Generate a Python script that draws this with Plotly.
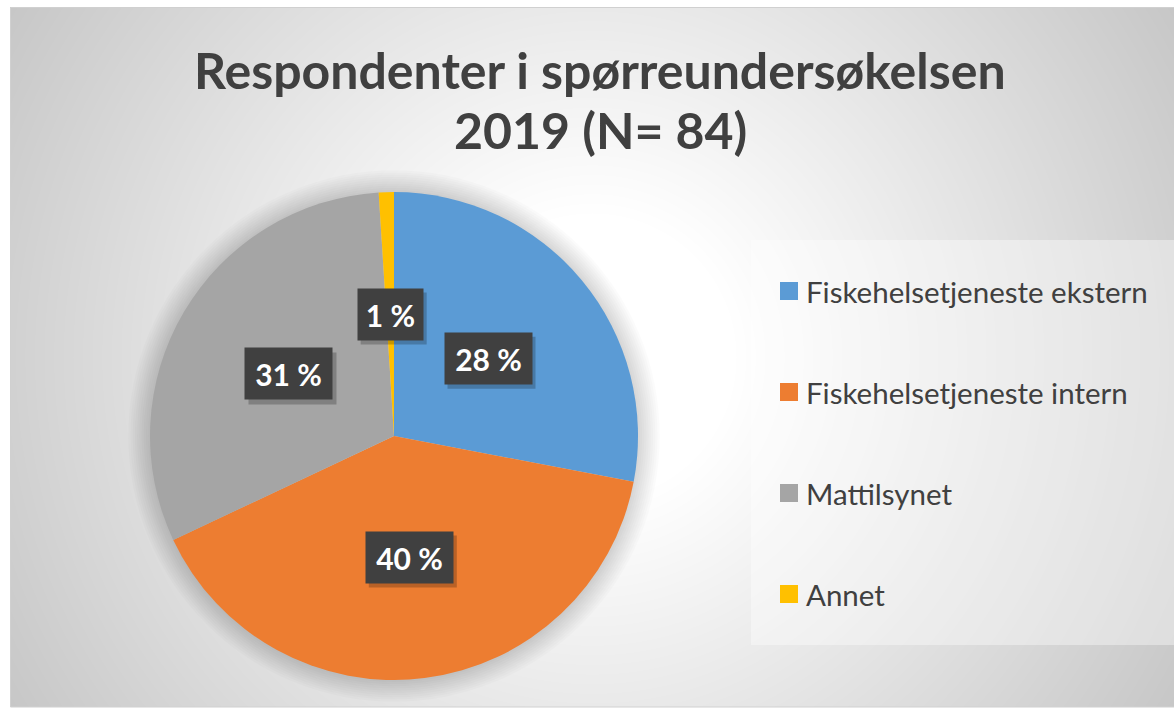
import math, zlib, struct, base64
import numpy as np
import plotly.graph_objects as go

# ---------------- data ----------------
categories = ["Fiskehelsetjeneste ekstern", "Fiskehelsetjeneste intern", "Mattilsynet", "Annet"]
values = [28, 40, 31, 1]
value_labels = ["28 %", "40 %", "31 %", "1 %"]
colors = ["#5B9BD5", "#ED7D31", "#A5A5A5", "#FFC000"]
title_lines = ["Respondenter i spørreundersøkelsen", "2019 (N= 84)"]

W, H = 1174, 708
TXT = "#404040"

def px(x):
    return x / W

def py(y):
    return 1 - y / H

# ---------------- background radial gradient (style) ----------------
bx0, by0, bw, bh = 10, 7, 1164, 700
yy, xx = np.mgrid[0:bh, 0:bw]
cx_g, cy_g = 592 - bx0, 357 - by0
dist = np.sqrt((xx - cx_g) ** 2 + (yy - cy_g) ** 2)
val = 255 - 0.104 * np.clip(dist - 144, 0, None)
arr = np.clip(val, 0, 255).astype(np.uint8)

def png_gray(a):
    h, w = a.shape
    raw = b"".join(b"\x00" + a[i].tobytes() for i in range(h))
    def chunk(t, d):
        c = struct.pack(">I", len(d)) + t + d
        return c + struct.pack(">I", zlib.crc32(t + d) & 0xffffffff)
    return (b"\x89PNG\r\n\x1a\n" + chunk(b"IHDR", struct.pack(">IIBBBBB", w, h, 8, 0, 0, 0, 0))
            + chunk(b"IDAT", zlib.compress(raw, 9)) + chunk(b"IEND", b""))

bg_uri = "data:image/png;base64," + base64.b64encode(png_gray(arr)).decode()

# ---------------- pie geometry ----------------
pcx, pcy, pr = 394, 436, 244

fig = go.Figure()
fig.add_trace(go.Pie(
    labels=categories, values=values, sort=False, direction="clockwise", rotation=0,
    marker=dict(colors=colors, line=dict(width=0)),
    textinfo="none", hoverinfo="label+percent", showlegend=False,
    domain=dict(x=[px(pcx - pr), px(pcx + pr)], y=[py(pcy + pr), py(pcy - pr)]),
))

shapes = []
# soft glow / shadow around pie
for i in range(10):
    rr = pr + 2 + i * 2.2
    shapes.append(dict(type="circle", xref="paper", yref="paper", layer="below",
                       x0=px(pcx - rr), x1=px(pcx + rr), y0=py(pcy + rr), y1=py(pcy - rr),
                       fillcolor="rgba(0,0,0,0.014)", line=dict(width=0)))
# legend panel
shapes.append(dict(type="rect", xref="paper", yref="paper", layer="below",
                   x0=px(751), x1=px(1180), y0=py(645), y1=py(240),
                   fillcolor="rgba(255,255,255,0.38)", line=dict(width=0)))

annotations = []
# data labels with dark boxes
total = sum(values)
cum = 0
for v, lab in zip(values, value_labels):
    mid = (cum + v / 2) / total * 2 * math.pi
    cum += v
    lx = pcx + 0.5 * pr * math.sin(mid)
    ly = pcy - 0.5 * pr * math.cos(mid)
    bw_ = 22 * len(lab) - 1
    bh_ = 51
    shapes.append(dict(type="rect", xref="paper", yref="paper", layer="above",
                       x0=px(lx - bw_ / 2 + 3), x1=px(lx + bw_ / 2 + 4),
                       y0=py(ly + bh_ / 2 + 5), y1=py(ly - bh_ / 2 + 4),
                       fillcolor="rgba(0,0,0,0.22)", line=dict(width=0)))
    annotations.append(dict(x=px(lx), y=py(ly), xref="paper", yref="paper",
                            text="<b>" + lab + "</b>", showarrow=False,
                            width=bw_, height=bh_, borderpad=0, bgcolor="#404040",
                            font=dict(family="Lato", size=30, color="white"),
                            xanchor="center", yanchor="middle"))

# title (two lines)
for line, ty in zip(title_lines, [70, 130]):
    annotations.append(dict(x=px(600), y=py(ty), xref="paper", yref="paper",
                            text="<b>" + line + "</b>", showarrow=False,
                            font=dict(family="Lato", size=50, color=TXT),
                            xanchor="center", yanchor="middle", align="center"))

# legend (manual)
leg_y = [291, 392, 493, 594]
for c, name, ly in zip(colors, categories, leg_y):
    shapes.append(dict(type="rect", xref="paper", yref="paper", layer="above",
                       x0=px(780), x1=px(798), y0=py(ly + 9), y1=py(ly - 9),
                       fillcolor=c, line=dict(width=0)))
    annotations.append(dict(x=px(804), y=py(ly), xref="paper", yref="paper",
                            text=name, showarrow=False, xanchor="left", yanchor="middle",
                            font=dict(family="Lato", size=29.5, color=TXT)))

# chart area border
shapes.append(dict(type="rect", xref="paper", yref="paper", layer="above",
                   x0=px(10.5), x1=px(1180), y0=py(707), y1=py(7.5),
                   fillcolor="rgba(0,0,0,0)", line=dict(width=1, color="#d0d0d0")))

fig.update_layout(
    width=W, height=H, margin=dict(l=0, r=0, t=0, b=0),
    paper_bgcolor="white", plot_bgcolor="white",
    images=[dict(source=bg_uri, xref="paper", yref="paper", x=px(bx0), y=py(by0),
                 sizex=bw / W, sizey=bh / H, xanchor="left", yanchor="top",
                 sizing="stretch", layer="below")],
    shapes=shapes, annotations=annotations, showlegend=False,
)

fig.write_html("out.html", config={"displayModeBar": False},
               post_script="document.body.style.margin='0';document.body.style.overflow='hidden';")
